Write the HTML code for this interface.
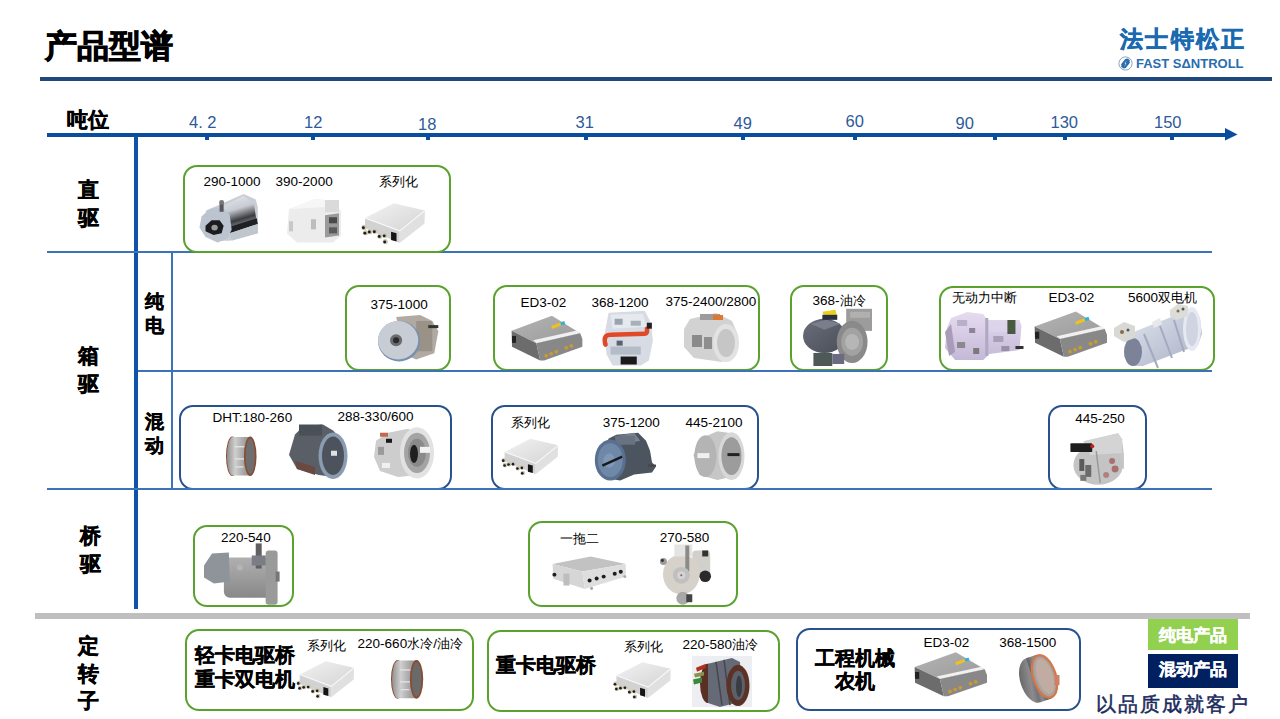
<!DOCTYPE html>
<html><head><meta charset="utf-8">
<style>
*{margin:0;padding:0;box-sizing:border-box}
html,body{width:1280px;height:719px;overflow:hidden;background:#fff}
body{position:relative;font-family:"Liberation Sans",sans-serif;color:#000}
.a{position:absolute;white-space:nowrap;line-height:1}
.ln{position:absolute}
.bx{position:absolute;border-radius:14px}
.g{border:2px solid #5aa22e}
.b{border:2px solid #28528f}
.lb{font-size:13.5px}
.hd{-webkit-text-stroke:0.5px #000;font-weight:bold;font-size:21px}
.hv{-webkit-text-stroke:0.5px #000;font-weight:bold;font-size:21px;line-height:28px;width:24px;white-space:normal}
.sv{-webkit-text-stroke:0.4px #000;font-weight:bold;font-size:18.5px;line-height:24px;width:22px;white-space:normal}
.cj{font-size:12.6px}
.bg{font-weight:bold;font-size:19.7px;-webkit-text-stroke:0.4px #000}
.tk{font-size:16.5px;color:#2d5a9a}
.tm{position:absolute;top:136px;width:4px;height:3.5px;background:#0a4d9e}
svg{position:absolute;overflow:visible}
</style></head><body>
<!-- title -->
<div class="a" style="left:45px;top:30.5px;font-size:31.5px;font-weight:bold;-webkit-text-stroke:0.9px #000">产品型谱</div>
<div class="ln" style="left:40px;top:77px;width:1232px;height:4px;background:#1f497d"></div>
<!-- logo -->
<div class="a" style="left:1120px;top:29px;font-size:22.5px;font-weight:bold;color:#1a6ab2;letter-spacing:2.3px;-webkit-text-stroke:0.6px #1a6ab2">法士特松正</div>
<svg style="left:1118px;top:56px" width="15" height="15" viewBox="0 0 15 15"><circle cx="7.5" cy="7.5" r="6.6" fill="#fff" stroke="#7a9ab8" stroke-width="0.9"/><path d="M4.2,8.6 L7.6,4.2 A2.2,2.2 0 0 1 10.6,4.6 L8.6,6.8" stroke="#2a6cb0" stroke-width="2.2" fill="none" stroke-linecap="round"/><path d="M10.8,6.4 L7.4,10.8 A2.2,2.2 0 0 1 4.4,10.4 L6.4,8.2" stroke="#2a6cb0" stroke-width="2.2" fill="none" stroke-linecap="round"/></svg>
<div class="a" style="left:1136px;top:57px;font-size:13px;font-weight:bold;color:#2a6cb0">FAST SΔNTROLL</div>

<!-- axis -->
<div class="a hd" style="left:67px;top:109px">吨位</div>
<div class="ln" style="left:47px;top:132.5px;width:1182px;height:4px;background:#0a4d9e"></div>
<svg style="left:0;top:0" width="1280" height="719"><polygon points="1225,128 1237.5,134.5 1225,140.5" fill="#0a4d9e"/></svg>
<div class="tm" style="left:205px"></div>
<div class="tm" style="left:311px"></div>
<div class="tm" style="left:426px"></div>
<div class="tm" style="left:583.5px"></div>
<div class="tm" style="left:740.7px"></div>
<div class="tm" style="left:853.3px"></div>
<div class="tm" style="left:992.7px"></div>
<div class="tm" style="left:1063px"></div>
<div class="tm" style="left:1170.3px"></div>
<div class="a tk" style="left:189px;top:114px">4. 2</div>
<div class="a tk" style="left:304px;top:114px">12</div>
<div class="a tk" style="left:418px;top:116px">18</div>
<div class="a tk" style="left:575.5px;top:114px">31</div>
<div class="a tk" style="left:733.5px;top:115px">49</div>
<div class="a tk" style="left:845.5px;top:113px">60</div>
<div class="a tk" style="left:955.5px;top:115px">90</div>
<div class="a tk" style="left:1050.5px;top:114px">130</div>
<div class="a tk" style="left:1154px;top:114px">150</div>

<!-- grid -->
<div class="ln" style="left:134px;top:136px;width:4px;height:473px;background:#0f52aa"></div>
<div class="ln" style="left:47px;top:251px;width:1165px;height:2px;background:#3b72b8"></div>
<div class="ln" style="left:138px;top:369.5px;width:1074px;height:2px;background:#3b72b8"></div>
<div class="ln" style="left:47px;top:488px;width:1165px;height:2px;background:#3b72b8"></div>
<div class="ln" style="left:171px;top:253px;width:2px;height:235px;background:#3b72b8"></div>
<div class="ln" style="left:35px;top:613.3px;width:1215px;height:5.4px;background:#bfbfbf"></div>

<!-- row headers -->
<div class="a hv" style="left:77.5px;top:176px">直<br>驱</div>
<div class="a hv" style="left:77.5px;top:342px">箱<br>驱</div>
<div class="a hv" style="left:79.5px;top:522px">桥<br>驱</div>
<div class="a hv" style="left:77.5px;top:632px;line-height:27.5px">定<br>转<br>子</div>
<div class="a sv" style="left:145px;top:290px">纯<br>电</div>
<div class="a sv" style="left:145px;top:410px">混<br>动</div>

<!-- boxes -->
<div class="bx g" style="left:183.00px;top:164.50px;width:268.00px;height:88.20px"></div>
<div class="bx g" style="left:345.00px;top:285.00px;width:106.00px;height:86.00px"></div>
<div class="bx g" style="left:492.75px;top:285.40px;width:266.75px;height:85.60px"></div>
<div class="bx g" style="left:789.60px;top:285.40px;width:98.65px;height:85.60px"></div>
<div class="bx g" style="left:938.75px;top:286.00px;width:276.65px;height:85.00px"></div>
<div class="bx g" style="left:193.40px;top:524.60px;width:100.70px;height:82.40px"></div>
<div class="bx g" style="left:527.75px;top:521.00px;width:210.15px;height:86.00px"></div>
<div class="bx g" style="left:185.25px;top:628.70px;width:288.85px;height:82.30px"></div>
<div class="bx g" style="left:486.50px;top:629.80px;width:293.00px;height:82.20px"></div>
<div class="bx b" style="left:178.75px;top:405.00px;width:272.85px;height:85.00px"></div>
<div class="bx b" style="left:490.90px;top:405.00px;width:268.60px;height:85.00px"></div>
<div class="bx b" style="left:1048.40px;top:405.00px;width:98.60px;height:85.00px"></div>
<div class="bx b" style="left:795.50px;top:628.00px;width:285.50px;height:83.00px"></div>
<div class="ln" style="left:138px;top:369.5px;width:1074px;height:2px;background:#3b72b8"></div>
<div class="ln" style="left:47px;top:488px;width:1165px;height:2px;background:#3b72b8"></div>
<div class="a lb" style="left:203.5px;top:174.7px">290-1000</div>
<div class="a lb" style="left:275.6px;top:174.7px">390-2000</div>
<div class="a lb" style="left:379.4px;top:175.1px"><span class="cj">系列化</span></div>
<div class="a lb" style="left:370.6px;top:298.1px">375-1000</div>
<div class="a lb" style="left:520.4px;top:295.8px">ED3-02</div>
<div class="a lb" style="left:591.5px;top:295.8px">368-1200</div>
<div class="a lb" style="left:665.5px;top:295.4px">375-2400/2800</div>
<div class="a lb" style="left:812.6px;top:294.1px">368-<span class="cj">油冷</span></div>
<div class="a lb" style="left:951.6px;top:291.1px"><span class="cj">无动力中断</span></div>
<div class="a lb" style="left:1048.4px;top:291.3px">ED3-02</div>
<div class="a lb" style="left:1128.0px;top:291.1px">5600<span class="cj">双电机</span></div>
<div class="a lb" style="left:212.6px;top:411.2px">DHT:180-260</div>
<div class="a lb" style="left:337.6px;top:410.1px">288-330/600</div>
<div class="a lb" style="left:511.0px;top:415.6px"><span class="cj">系列化</span></div>
<div class="a lb" style="left:602.8px;top:415.8px">375-1200</div>
<div class="a lb" style="left:685.5px;top:415.8px">445-2100</div>
<div class="a lb" style="left:1075.3px;top:412.4px">445-250</div>
<div class="a lb" style="left:221.1px;top:531.1px">220-540</div>
<div class="a lb" style="left:559.9px;top:532.0px"><span class="cj">一拖二</span></div>
<div class="a lb" style="left:659.8px;top:530.6px">270-580</div>
<div class="a lb" style="left:306.6px;top:638.6px"><span class="cj">系列化</span></div>
<div class="a lb" style="left:357.6px;top:637.3px">220-660<span class="cj">水冷</span>/<span class="cj">油冷</span></div>
<div class="a lb" style="left:623.8px;top:639.9px"><span class="cj">系列化</span></div>
<div class="a lb" style="left:682.5px;top:638.1px">220-580<span class="cj">油冷</span></div>
<div class="a lb" style="left:923.6px;top:636.4px">ED3-02</div>
<div class="a lb" style="left:999.3px;top:636.4px">368-1500</div>
<div class="a bg" style="left:195.2px;top:645.7px">轻卡电驱桥</div>
<div class="a bg" style="left:195.2px;top:670.0px">重卡双电机</div>
<div class="a bg" style="left:496.2px;top:655.5px">重卡电驱桥</div>
<div class="a bg" style="left:814.6px;top:648.5px">工程机械</div>
<div class="a bg" style="left:834.5px;top:671.9px">农机</div>
<svg style="left:0;top:0" width="1280" height="719"><defs>
<linearGradient id="gSilTop" x1="0" y1="0" x2="1" y2="1"><stop offset="0" stop-color="#f2f2f2"/><stop offset="1" stop-color="#d4d4d4"/></linearGradient>
<linearGradient id="gGrayTop" x1="0" y1="0" x2="1" y2="1"><stop offset="0" stop-color="#b4b4b4"/><stop offset="1" stop-color="#9a9a9a"/></linearGradient>
<linearGradient id="gM1" x1="0" y1="0" x2="0.3" y2="1"><stop offset="0" stop-color="#e8ebf0"/><stop offset="0.45" stop-color="#c8ccd2"/><stop offset="0.75" stop-color="#3a3c40"/><stop offset="1" stop-color="#9aa0a8"/></linearGradient>
<linearGradient id="gCyl" x1="0" y1="0" x2="0" y2="1"><stop offset="0" stop-color="#e0e0e0"/><stop offset="0.5" stop-color="#c4c4c4"/><stop offset="1" stop-color="#9a9a9a"/></linearGradient>
<linearGradient id="gStat" x1="0" y1="0" x2="1" y2="0"><stop offset="0" stop-color="#909090"/><stop offset="0.35" stop-color="#cfcfcf"/><stop offset="0.7" stop-color="#a8a8a8"/><stop offset="1" stop-color="#8a8a8a"/></linearGradient>
<linearGradient id="gDark" x1="0" y1="0" x2="1" y2="1"><stop offset="0" stop-color="#6a6e7a"/><stop offset="1" stop-color="#4a4e58"/></linearGradient>
<linearGradient id="gLav" x1="0" y1="0" x2="0" y2="1"><stop offset="0" stop-color="#e6dcf0"/><stop offset="1" stop-color="#c4b8d8"/></linearGradient>
<linearGradient id="gBlu" x1="0" y1="0" x2="1" y2="1"><stop offset="0" stop-color="#e4e8f2"/><stop offset="1" stop-color="#a8b0c4"/></linearGradient>
<linearGradient id="gCast" x1="0" y1="0" x2="0" y2="1"><stop offset="0" stop-color="#b0b0b0"/><stop offset="1" stop-color="#888888"/></linearGradient>
</defs><g transform="translate(199.50 194.00) scale(1.0052 0.9340)"><polygon points="6.0,18.0 40.0,2.0 44.0,0.0 56.0,6.0 58.0,14.0 58.0,42.0 30.0,50.0 14.0,50.0" fill="#c9ced6" /><polygon points="22.0,14.0 44.0,2.0 54.0,10.0 57.0,30.0 32.0,40.0" fill="url(#gM1)" /><polygon points="28.0,36.0 57.0,26.0 58.0,32.0 30.0,42.0" fill="#1e2024" /><polygon points="30.0,42.0 58.0,32.0 58.0,42.0 32.0,50.0" fill="#c0c6ce" /><polygon points="2.0,24.0 10.0,16.0 22.0,14.0 30.0,22.0 32.0,38.0 28.0,48.0 18.0,52.0 6.0,46.0 0.0,36.0" fill="#bcc4d0" /><polygon points="6.0,34.0 12.0,28.0 20.0,28.0 24.0,34.0 22.0,42.0 14.0,44.0 6.0,40.0" fill="#1c1c20" /><circle cx="15.0" cy="36.0" r="3.2" fill="#9a9a9a" /><rect x="20.0" y="10.0" width="4.0" height="9.0" fill="#55565c" /><circle cx="22.0" cy="9.0" r="2.5" fill="#777" /></g><g transform="translate(285.00 197.00) scale(1.0000 1.0111)"><polygon points="4.0,12.0 30.0,2.0 48.0,4.0 56.0,14.0 56.0,38.0 48.0,45.0 12.0,45.0 2.0,36.0" fill="#ececec" /><polygon points="4.0,12.0 30.0,2.0 48.0,4.0 40.0,10.0" fill="#f6f6f6" /><rect x="40.0" y="3.0" width="14.0" height="12.0" fill="#dadada" /><polygon points="40.0,18.0 54.0,16.0 54.0,38.0 40.0,40.0" fill="#9a9a9a" /><rect x="44.0" y="20.0" width="8.0" height="6.0" fill="#4a4a4a" /><rect x="44.0" y="30.0" width="8.0" height="6.0" fill="#5a5a5a" /><rect x="26.0" y="22.0" width="5.0" height="10.0" fill="#bdbdbd" /><rect x="4.0" y="24.0" width="4.0" height="10.0" fill="#c8c8c8" /></g><g transform="translate(362.00 202.00) scale(0.9922 0.9762)"><polygon points="3.0,16.4 32.0,1.3 63.4,8.8 38.0,29.6" fill="url(#gSilTop)" /><polygon points="3.0,16.4 38.0,29.6 38.0,42.0 3.0,27.0" fill="#d2d2d2" /><polygon points="38.0,29.6 63.4,8.8 63.0,22.0 38.0,42.0" fill="#e0e0e0" /><path d="M3,16.4 L38,29.6 L63.4,8.8" stroke="#f8f8f8" stroke-width="1.2" fill="none"/><circle cx="2.0" cy="26.0" r="2.6" fill="#cfc8b4" /><circle cx="1.4" cy="26.4" r="1.5" fill="#1e1e1e" /><circle cx="3.5" cy="31.5" r="2.6" fill="#cfc8b4" /><circle cx="2.9" cy="31.9" r="1.5" fill="#1e1e1e" /><circle cx="8.0" cy="30.4" r="2.6" fill="#cfc8b4" /><circle cx="7.4" cy="30.8" r="1.5" fill="#1e1e1e" /><circle cx="13.0" cy="30.0" r="2.6" fill="#cfc8b4" /><circle cx="12.4" cy="30.4" r="1.5" fill="#1e1e1e" /><circle cx="18.0" cy="35.0" r="2.6" fill="#cfc8b4" /><circle cx="17.4" cy="35.4" r="1.5" fill="#1e1e1e" /><circle cx="23.0" cy="34.3" r="2.6" fill="#cfc8b4" /><circle cx="22.4" cy="34.7" r="1.5" fill="#1e1e1e" /><circle cx="23.5" cy="40.5" r="2.6" fill="#cfc8b4" /><circle cx="22.9" cy="40.9" r="1.5" fill="#1e1e1e" /><polygon points="29.3,30.4 34.8,32.0 34.8,40.5 29.3,39.0" fill="#151515" /></g><g transform="translate(376.00 313.00) scale(1.0048 1.0083)"><polygon points="20.0,4.0 44.0,2.0 56.0,8.0 62.0,18.0 58.0,40.0 40.0,46.0 30.0,42.0" fill="#b0aaa2" /><rect x="40.0" y="8.0" width="16.0" height="30.0" fill="#9a9286" /><ellipse cx="23.0" cy="28.0" rx="21.0" ry="20.0" fill="#7890b0" /><ellipse cx="22.0" cy="27.0" rx="20.0" ry="19.0" fill="#c8ccd4" /><circle cx="20.0" cy="27.0" r="6.0" fill="#6a6a70" /><circle cx="20.0" cy="27.0" r="3.0" fill="#2a2a2a" /><rect x="52.0" y="12.0" width="10.0" height="3.0" fill="#333" /></g><g transform="translate(510.00 315.20) scale(1.0056 0.9872)"><polygon points="1.6,15.8 41.7,0.6 69.8,18.2 26.2,28.3" fill="url(#gGrayTop)" /><polygon points="23.0,25.5 66.5,15.6 69.8,18.2 26.2,28.3" fill="#f0f0f0" /><polygon points="1.6,15.8 26.2,28.3 30.0,46.0 2.0,32.0" fill="#6c6c6c" /><polygon points="26.2,28.3 69.8,18.2 72.0,24.0 72.0,32.0 34.0,46.0 30.0,46.0" fill="#888888" /><polygon points="41.0,11.0 51.0,7.0 52.0,10.0 42.0,14.0" fill="#f0c020" /><polygon points="50.0,7.5 54.0,6.0 55.0,9.0 51.0,10.5" fill="#30b0e0" /><circle cx="36.0" cy="41.0" r="1.9" fill="#c89a30" /><circle cx="41.0" cy="39.0" r="1.9" fill="#c89a30" /><circle cx="46.0" cy="37.0" r="1.9" fill="#c89a30" /><circle cx="56.0" cy="33.0" r="1.9" fill="#c89a30" /><circle cx="61.0" cy="31.0" r="1.9" fill="#c89a30" /><rect x="2.0" y="21.0" width="4.0" height="7.0" fill="#222" /></g><g transform="translate(600.50 310.80) scale(1.0075 0.9945)"><polygon points="8.0,2.0 44.0,0.0 50.0,12.0 52.0,30.0 48.0,50.0 40.0,55.0 12.0,55.0 6.0,44.0 4.0,24.0" fill="#d6dbe4" /><polygon points="10.0,4.0 42.0,3.0 46.0,16.0 12.0,18.0" fill="#e6e9ee" /><rect x="14.0" y="8.0" width="8.0" height="6.0" fill="#9aa4b0" /><rect x="30.0" y="10.0" width="10.0" height="5.0" fill="#a8b0bc" /><rect x="10.0" y="36.0" width="30.0" height="8.0" fill="#b4bcc8" /><rect x="16.0" y="30.0" width="6.0" height="5.0" fill="#5a6470" /><rect x="20.0" y="46.0" width="16.0" height="8.0" fill="#1a1a1a" /><path d="M5,34 Q2,24 10,24 L44,23 Q47,23 46,18" stroke="#e04828" stroke-width="4.5" fill="none" stroke-linecap="round"/><rect x="46.0" y="12.0" width="5.0" height="6.0" fill="#222" /></g><g transform="translate(682.00 313.00) scale(1.0000 1.0000)"><polygon points="8.0,6.0 34.0,0.0 50.0,8.0 56.0,22.0 54.0,40.0 40.0,49.0 12.0,45.0 2.0,34.0 2.0,16.0" fill="#d2d2d2" /><rect x="18.0" y="1.0" width="20.0" height="6.0" fill="#9c9c9c" /><rect x="31.0" y="2.0" width="10.0" height="5.0" fill="#e07830" /><rect x="10.0" y="22.0" width="10.0" height="12.0" fill="#8a8a8a" /><rect x="22.0" y="24.0" width="8.0" height="12.0" fill="#8e8e8e" /><ellipse cx="44.0" cy="30.0" rx="13.0" ry="19.0" fill="#e2e2e2" /><ellipse cx="44.0" cy="30.0" rx="9.0" ry="14.0" fill="#c6c6c6" /></g><g transform="translate(802.50 307.80) scale(0.9929 1.0034)"><ellipse cx="22.0" cy="28.0" rx="21.5" ry="17.0" fill="url(#gDark)" /><polygon points="8.0,16.0 24.0,12.0 38.0,16.0 22.0,22.0" fill="#7a7e8c" /><polygon points="20.0,4.0 33.0,2.0 35.0,8.0 22.0,10.0" fill="#e8d020" /><rect x="20.0" y="7.0" width="15.0" height="5.0" fill="#2a3040" /><rect x="44.0" y="1.0" width="26.0" height="22.0" fill="#9c9c9c" /><rect x="48.0" y="4.0" width="20.0" height="6.0" fill="#b0b0b0" /><ellipse cx="50.0" cy="34.0" rx="15.5" ry="21.0" fill="#8a8a8a" /><ellipse cx="50.0" cy="34.0" rx="11.0" ry="14.0" fill="#a2a2a2" /><ellipse cx="50.0" cy="34.0" rx="7.0" ry="8.0" fill="#b6b6b6" /><rect x="11.0" y="45.0" width="19.0" height="13.0" fill="#4e5856" /><rect x="30.0" y="46.0" width="12.0" height="10.0" fill="#6a6a80" /></g><g transform="translate(945.00 312.00) scale(1.0064 1.0000)"><polygon points="6.0,6.0 22.0,0.0 38.0,2.0 42.0,8.0 74.0,8.0 76.0,14.0 74.0,38.0 44.0,42.0 38.0,48.0 10.0,48.0 0.0,36.0 2.0,16.0" fill="url(#gLav)" /><polygon points="0.0,20.0 6.0,12.0 10.0,40.0 4.0,44.0" fill="#a89cb8" /><rect x="44.0" y="10.0" width="20.0" height="10.0" fill="#dcd4ea" /><rect x="62.0" y="8.0" width="8.0" height="14.0" fill="#4a5a40" /><rect x="12.0" y="8.0" width="10.0" height="6.0" fill="#b8b0c8" /><rect x="24.0" y="16.0" width="6.0" height="5.0" fill="#8c8498" /><rect x="12.0" y="30.0" width="8.0" height="6.0" fill="#8a8a8a" /><rect x="28.0" y="36.0" width="6.0" height="6.0" fill="#7a7a7a" /><rect x="48.0" y="24.0" width="10.0" height="6.0" fill="#a8a0b8" /><rect x="56.0" y="34.0" width="8.0" height="5.0" fill="#9890a8" /><rect x="40.0" y="6.0" width="3.0" height="38.0" fill="#b0a8c0" /><rect x="70.0" y="34.0" width="8.0" height="3.0" fill="#333" /></g><g transform="translate(1033.00 310.80) scale(1.0278 0.9979)"><polygon points="1.6,15.8 41.7,0.6 69.8,18.2 26.2,28.3" fill="url(#gGrayTop)" /><polygon points="23.0,25.5 66.5,15.6 69.8,18.2 26.2,28.3" fill="#f0f0f0" /><polygon points="1.6,15.8 26.2,28.3 30.0,46.0 2.0,32.0" fill="#6c6c6c" /><polygon points="26.2,28.3 69.8,18.2 72.0,24.0 72.0,32.0 34.0,46.0 30.0,46.0" fill="#888888" /><polygon points="41.0,11.0 51.0,7.0 52.0,10.0 42.0,14.0" fill="#f0c020" /><polygon points="50.0,7.5 54.0,6.0 55.0,9.0 51.0,10.5" fill="#30b0e0" /><circle cx="36.0" cy="41.0" r="1.9" fill="#c89a30" /><circle cx="41.0" cy="39.0" r="1.9" fill="#c89a30" /><circle cx="46.0" cy="37.0" r="1.9" fill="#c89a30" /><circle cx="56.0" cy="33.0" r="1.9" fill="#c89a30" /><circle cx="61.0" cy="31.0" r="1.9" fill="#c89a30" /><rect x="2.0" y="21.0" width="4.0" height="7.0" fill="#222" /></g><g transform="translate(1114.00 304.00) scale(1.0000 1.0000)"><polygon points="22.0,27.0 70.0,8.0 78.0,3.0 86.0,14.0 88.0,30.0 84.0,41.0 29.0,62.0 18.0,62.0 10.0,52.0 12.0,36.0" fill="url(#gBlu)" /><ellipse cx="78.0" cy="25.0" rx="9.0" ry="22.0" fill="#e6e8f2" /><ellipse cx="78.0" cy="25.0" rx="6.0" ry="17.0" fill="#d0d4e2" /><ellipse cx="19.0" cy="48.0" rx="9.0" ry="14.0" fill="#7c8298" /><path d="M30,30 L44,64 M46,22 L58,54 M60,16 L70,48" stroke="#a4aac0" stroke-width="2" fill="none"/><polygon points="0.0,24.0 10.0,18.0 21.0,22.0 21.0,34.0 10.0,38.0 0.0,32.0" fill="#d8d8d4" /><circle cx="8.0" cy="28.0" r="2.0" fill="#8a6a40" /><circle cx="14.0" cy="26.0" r="1.5" fill="#555" /><polygon points="56.0,6.0 64.0,0.0 74.0,2.0 74.0,12.0 62.0,16.0 56.0,12.0" fill="#dcdcd8" /><circle cx="64.0" cy="7.0" r="1.5" fill="#8a6a40" /><circle cx="69.0" cy="5.0" r="1.5" fill="#555" /><polygon points="38.0,18.0 46.0,14.0 48.0,20.0 40.0,24.0" fill="#e8e8ea" /></g><g transform="translate(226.00 436.00) scale(0.9688 1.0150)"><ellipse cx="6.5" cy="20.0" rx="6.5" ry="19.5" fill="#8a4a30" /><path d="M7,1 L25,1 L25,39 L7,39 A6,19 0 0 1 7,1 Z" fill="url(#gStat)"/><rect x="9.0" y="10.0" width="10.0" height="1.2" fill="#e8e8e8" /><rect x="9.0" y="22.0" width="10.0" height="1.2" fill="#e8e8e8" /><rect x="10.0" y="30.0" width="8.0" height="1.0" fill="#eee" /><ellipse cx="25.0" cy="20.0" rx="6.5" ry="19.5" fill="#8a4a30" /><ellipse cx="25.0" cy="20.0" rx="4.8" ry="17.5" fill="#6e6e6e" /></g><g transform="translate(289.00 424.50) scale(1.0000 1.0091)"><polygon points="6.0,10.0 14.0,2.0 34.0,0.0 44.0,6.0 50.0,12.0 44.0,52.0 30.0,50.0 8.0,44.0 0.0,30.0" fill="#5a5e66" /><rect x="10.0" y="0.0" width="23.0" height="11.0" fill="#4a5058" /><polygon points="6.0,36.0 26.0,42.0 26.0,50.0 8.0,44.0" fill="#6a4a40" /><ellipse cx="44.0" cy="31.0" rx="14.5" ry="23.0" fill="#8a9cb0" /><ellipse cx="44.0" cy="31.0" rx="11.0" ry="19.0" fill="#4c535c" /><rect x="42.0" y="26.0" width="6.0" height="5.0" fill="#e0e0e0" /></g><g transform="translate(374.00 426.70) scale(1.0000 1.0057)"><polygon points="2.0,14.0 14.0,6.0 34.0,2.0 42.0,6.0 44.0,48.0 24.0,50.0 6.0,44.0 0.0,30.0" fill="#cdcdcd" /><ellipse cx="43.0" cy="26.0" rx="17.0" ry="25.5" fill="#e2e2e2" /><ellipse cx="43.0" cy="26.0" rx="13.0" ry="20.0" fill="#a4a4a4" /><ellipse cx="43.0" cy="26.0" rx="9.0" ry="14.0" fill="#8a8a8a" /><ellipse cx="40.0" cy="27.0" rx="4.0" ry="9.0" fill="#1e1e1e" /><rect x="46.0" y="20.0" width="10.0" height="6.0" fill="#f2f2f2" /><rect x="6.0" y="6.0" width="8.0" height="4.0" fill="#c06a50" /><rect x="12.0" y="12.0" width="6.0" height="4.0" fill="#1a1a1a" /><rect x="8.0" y="36.0" width="8.0" height="5.0" fill="#f0f0f0" /><rect x="4.0" y="20.0" width="6.0" height="8.0" fill="#9a9a9a" /></g><g transform="translate(502.00 437.60) scale(0.8844 0.8738)"><polygon points="3.0,16.4 32.0,1.3 63.4,8.8 38.0,29.6" fill="url(#gSilTop)" /><polygon points="3.0,16.4 38.0,29.6 38.0,42.0 3.0,27.0" fill="#d2d2d2" /><polygon points="38.0,29.6 63.4,8.8 63.0,22.0 38.0,42.0" fill="#e0e0e0" /><path d="M3,16.4 L38,29.6 L63.4,8.8" stroke="#f8f8f8" stroke-width="1.2" fill="none"/><circle cx="2.0" cy="26.0" r="2.6" fill="#cfc8b4" /><circle cx="1.4" cy="26.4" r="1.5" fill="#1e1e1e" /><circle cx="3.5" cy="31.5" r="2.6" fill="#cfc8b4" /><circle cx="2.9" cy="31.9" r="1.5" fill="#1e1e1e" /><circle cx="8.0" cy="30.4" r="2.6" fill="#cfc8b4" /><circle cx="7.4" cy="30.8" r="1.5" fill="#1e1e1e" /><circle cx="13.0" cy="30.0" r="2.6" fill="#cfc8b4" /><circle cx="12.4" cy="30.4" r="1.5" fill="#1e1e1e" /><circle cx="18.0" cy="35.0" r="2.6" fill="#cfc8b4" /><circle cx="17.4" cy="35.4" r="1.5" fill="#1e1e1e" /><circle cx="23.0" cy="34.3" r="2.6" fill="#cfc8b4" /><circle cx="22.4" cy="34.7" r="1.5" fill="#1e1e1e" /><circle cx="23.5" cy="40.5" r="2.6" fill="#cfc8b4" /><circle cx="22.9" cy="40.9" r="1.5" fill="#1e1e1e" /><polygon points="29.3,30.4 34.8,32.0 34.8,40.5 29.3,39.0" fill="#151515" /></g><g transform="translate(594.40 432.70) scale(0.9935 0.9959)"><polygon points="14.0,6.0 22.0,2.0 44.0,0.0 52.0,8.0 56.0,18.0 58.0,30.0 62.0,34.0 58.0,40.0 40.0,42.0 26.0,48.0 14.0,46.0" fill="#4c5460" /><polygon points="20.0,4.0 40.0,0.0 46.0,8.0 28.0,12.0" fill="#7a828c" /><rect x="21.0" y="3.0" width="20.0" height="9.0" fill="#687280" /><ellipse cx="16.0" cy="27.5" rx="15.6" ry="20.6" fill="#5a7090" /><ellipse cx="16.0" cy="27.5" rx="12.5" ry="17.0" fill="#7088a8" /><ellipse cx="15.0" cy="28.0" rx="6.0" ry="7.0" fill="#8098b8" /><path d="M8,33 L28,24" stroke="#1a1a1a" stroke-width="2.5"/><rect x="54.0" y="32.0" width="8.0" height="2.0" fill="#444" /></g><g transform="translate(693.40 431.20) scale(1.0019 0.9959)"><polygon points="10.0,6.0 24.0,0.0 38.0,2.0 44.0,8.0 46.0,44.0 24.0,49.0 6.0,44.0 0.0,24.0" fill="#c6c6c6" /><ellipse cx="12.0" cy="25.0" rx="11.0" ry="21.0" fill="#b4b4b4" /><ellipse cx="38.0" cy="25.0" rx="13.0" ry="24.0" fill="#d8d8d8" /><ellipse cx="38.0" cy="25.0" rx="10.0" ry="19.0" fill="#9c9c9c" /><rect x="34.0" y="22.0" width="12.0" height="3.0" fill="#222" /><rect x="4.0" y="22.0" width="12.0" height="5.0" fill="#f0f0f0" /></g><g transform="translate(1070.40 433.30) scale(0.9926 0.9904)"><polygon points="14.0,8.0 48.0,0.0 52.0,6.0 54.0,22.0 54.0,36.0" fill="#c8c8c8" /><ellipse cx="28.0" cy="32.0" rx="25.0" ry="20.0" fill="#c4c4c4" /><polygon points="13.0,8.0 48.0,0.0 52.0,6.0 52.0,20.0 20.0,22.0" fill="#d4d4d4" /><rect x="0.0" y="10.0" width="22.0" height="9.0" fill="#1e1e1e" rx="1"/><circle cx="22.0" cy="13.0" r="2.0" fill="#c02020" /><rect x="9.0" y="26.0" width="5.0" height="12.0" fill="#5a5a5a" /><rect x="15.0" y="32.0" width="6.0" height="12.0" fill="#6a6a6a" /><rect x="10.0" y="42.0" width="6.0" height="6.0" fill="#777" /><circle cx="42.0" cy="28.0" r="3.0" fill="#a87070" /><circle cx="45.0" cy="36.0" r="3.5" fill="#a87070" /><circle cx="36.0" cy="42.0" r="3.0" fill="#b08080" /><path d="M26,18 L30,50" stroke="#9a9a9a" stroke-width="1.5"/></g><g transform="translate(204.00 543.40) scale(0.9947 1.0049)"><rect x="20.0" y="14.0" width="50.0" height="40.0" fill="url(#gCast)" rx="6"/><polygon points="0.0,22.0 8.0,10.0 25.0,9.0 26.0,38.0 10.0,40.0 0.0,34.0" fill="#8e949a" /><rect x="62.0" y="7.0" width="12.0" height="54.0" fill="#9a9a9a" rx="3"/><rect x="52.0" y="0.0" width="6.0" height="25.0" fill="#606060" /><rect x="48.0" y="12.0" width="14.0" height="10.0" fill="#7a7e84" /><rect x="72.0" y="28.0" width="4.0" height="10.0" fill="#777" /><circle cx="36.0" cy="24.0" r="3.0" fill="#b4b4b4" /></g><g transform="translate(551.40 555.80) scale(1.0053 0.9914)"><polygon points="1.2,8.3 39.2,0.8 74.0,8.3 30.7,15.9" fill="#c2c2c2" /><polygon points="1.2,8.3 30.7,15.9 33.3,33.6 1.8,23.1" fill="#d6d6d6" /><polygon points="30.7,15.9 74.0,8.3 74.0,21.0 33.3,33.6" fill="#dedede" /><rect x="12.0" y="18.0" width="6.0" height="12.0" fill="#bdbdbd" /><circle cx="38.0" cy="25.0" r="2.0" fill="#1e1e1e" /><circle cx="45.0" cy="23.0" r="2.0" fill="#1e1e1e" /><circle cx="52.0" cy="21.0" r="2.0" fill="#1e1e1e" /><circle cx="63.0" cy="18.0" r="2.0" fill="#1e1e1e" /><circle cx="69.0" cy="16.0" r="2.0" fill="#1e1e1e" /><circle cx="3.0" cy="19.0" r="2.0" fill="#1e1e1e" /><circle cx="40.0" cy="33.0" r="1.5" fill="#9ab" /><circle cx="73.0" cy="21.0" r="1.5" fill="#9ab" /></g><g transform="translate(658.40 544.50) scale(0.9964 0.9951)"><rect x="34.0" y="6.0" width="18.0" height="26.0" fill="#d2d0ca" rx="4"/><rect x="44.0" y="6.0" width="6.0" height="6.0" fill="#333" /><ellipse cx="23.0" cy="30.0" rx="18.4" ry="20.0" fill="#d6d2ca" /><rect x="16.0" y="0.0" width="18.0" height="12.0" fill="#e4e4e2" /><rect x="27.0" y="1.0" width="4.0" height="26.0" fill="#8a8a88" /><circle cx="23.0" cy="31.0" r="8.5" fill="#c0c0c0" /><circle cx="23.0" cy="31.0" r="4.0" fill="#d4d4d4" /><circle cx="23.0" cy="31.0" r="1.0" fill="#a05050" /><circle cx="47.0" cy="32.0" r="5.8" fill="#2a2a2a" /><circle cx="24.5" cy="54.0" r="6.5" fill="#a8a8a8" /><rect x="28.0" y="50.0" width="6.0" height="8.0" fill="#444" /><circle cx="5.0" cy="17.0" r="3.5" fill="#9a9a9a" /><circle cx="4.0" cy="16.0" r="1.5" fill="#333" /></g><g transform="translate(297.00 660.00) scale(0.9000 0.8881)"><polygon points="3.0,16.4 32.0,1.3 63.4,8.8 38.0,29.6" fill="url(#gSilTop)" /><polygon points="3.0,16.4 38.0,29.6 38.0,42.0 3.0,27.0" fill="#d2d2d2" /><polygon points="38.0,29.6 63.4,8.8 63.0,22.0 38.0,42.0" fill="#e0e0e0" /><path d="M3,16.4 L38,29.6 L63.4,8.8" stroke="#f8f8f8" stroke-width="1.2" fill="none"/><circle cx="2.0" cy="26.0" r="2.6" fill="#cfc8b4" /><circle cx="1.4" cy="26.4" r="1.5" fill="#1e1e1e" /><circle cx="3.5" cy="31.5" r="2.6" fill="#cfc8b4" /><circle cx="2.9" cy="31.9" r="1.5" fill="#1e1e1e" /><circle cx="8.0" cy="30.4" r="2.6" fill="#cfc8b4" /><circle cx="7.4" cy="30.8" r="1.5" fill="#1e1e1e" /><circle cx="13.0" cy="30.0" r="2.6" fill="#cfc8b4" /><circle cx="12.4" cy="30.4" r="1.5" fill="#1e1e1e" /><circle cx="18.0" cy="35.0" r="2.6" fill="#cfc8b4" /><circle cx="17.4" cy="35.4" r="1.5" fill="#1e1e1e" /><circle cx="23.0" cy="34.3" r="2.6" fill="#cfc8b4" /><circle cx="22.4" cy="34.7" r="1.5" fill="#1e1e1e" /><circle cx="23.5" cy="40.5" r="2.6" fill="#cfc8b4" /><circle cx="22.9" cy="40.9" r="1.5" fill="#1e1e1e" /><polygon points="29.3,30.4 34.8,32.0 34.8,40.5 29.3,39.0" fill="#151515" /></g><g transform="translate(391.00 659.40) scale(1.0219 0.9950)"><ellipse cx="6.5" cy="20.0" rx="6.5" ry="19.5" fill="#8a4a30" /><path d="M7,1 L25,1 L25,39 L7,39 A6,19 0 0 1 7,1 Z" fill="url(#gStat)"/><rect x="9.0" y="10.0" width="10.0" height="1.2" fill="#e8e8e8" /><rect x="9.0" y="22.0" width="10.0" height="1.2" fill="#e8e8e8" /><rect x="10.0" y="30.0" width="8.0" height="1.0" fill="#eee" /><ellipse cx="25.0" cy="20.0" rx="6.5" ry="19.5" fill="#8a4a30" /><ellipse cx="25.0" cy="20.0" rx="4.8" ry="17.5" fill="#6a6a6a" /></g><g transform="translate(613.75 661.00) scale(0.8984 0.8810)"><polygon points="3.0,16.4 32.0,1.3 63.4,8.8 38.0,29.6" fill="url(#gSilTop)" /><polygon points="3.0,16.4 38.0,29.6 38.0,42.0 3.0,27.0" fill="#d2d2d2" /><polygon points="38.0,29.6 63.4,8.8 63.0,22.0 38.0,42.0" fill="#e0e0e0" /><path d="M3,16.4 L38,29.6 L63.4,8.8" stroke="#f8f8f8" stroke-width="1.2" fill="none"/><circle cx="2.0" cy="26.0" r="2.6" fill="#cfc8b4" /><circle cx="1.4" cy="26.4" r="1.5" fill="#1e1e1e" /><circle cx="3.5" cy="31.5" r="2.6" fill="#cfc8b4" /><circle cx="2.9" cy="31.9" r="1.5" fill="#1e1e1e" /><circle cx="8.0" cy="30.4" r="2.6" fill="#cfc8b4" /><circle cx="7.4" cy="30.8" r="1.5" fill="#1e1e1e" /><circle cx="13.0" cy="30.0" r="2.6" fill="#cfc8b4" /><circle cx="12.4" cy="30.4" r="1.5" fill="#1e1e1e" /><circle cx="18.0" cy="35.0" r="2.6" fill="#cfc8b4" /><circle cx="17.4" cy="35.4" r="1.5" fill="#1e1e1e" /><circle cx="23.0" cy="34.3" r="2.6" fill="#cfc8b4" /><circle cx="22.4" cy="34.7" r="1.5" fill="#1e1e1e" /><circle cx="23.5" cy="40.5" r="2.6" fill="#cfc8b4" /><circle cx="22.9" cy="40.9" r="1.5" fill="#1e1e1e" /><polygon points="29.3,30.4 34.8,32.0 34.8,40.5 29.3,39.0" fill="#151515" /></g><g transform="translate(692.00 656.00) scale(1.0000 0.9811)"><rect x="0.0" y="0.0" width="60.0" height="52.0" fill="#eceef2" /><ellipse cx="16.0" cy="28.0" rx="8.0" ry="20.0" fill="#5a3024" /><polygon points="16.0,8.0 40.0,2.0 48.0,6.0 50.0,46.0 28.0,52.0 16.0,48.0" fill="#666a76" /><path d="M24,6 L30,50 M32,4 L38,50" stroke="#44474e" stroke-width="1.5"/><ellipse cx="46.0" cy="30.0" rx="11.5" ry="21.0" fill="#5c3226" /><ellipse cx="46.0" cy="30.0" rx="7.0" ry="15.0" fill="#5c606a" /><ellipse cx="47.0" cy="31.0" rx="3.0" ry="11.0" fill="#3a3c44" /><polygon points="4.0,12.0 14.0,8.0 14.0,12.0 5.0,16.0" fill="#b03020" /><polygon points="2.0,18.0 12.0,16.0 12.0,20.0 3.0,22.0" fill="#8a9050" /><polygon points="1.0,24.0 10.0,22.0 10.0,27.0 2.0,29.0" fill="#3a8a3a" /></g><g transform="translate(913.00 651.60) scale(1.0278 0.9723)"><polygon points="1.6,15.8 41.7,0.6 69.8,18.2 26.2,28.3" fill="url(#gGrayTop)" /><polygon points="23.0,25.5 66.5,15.6 69.8,18.2 26.2,28.3" fill="#f0f0f0" /><polygon points="1.6,15.8 26.2,28.3 30.0,46.0 2.0,32.0" fill="#6c6c6c" /><polygon points="26.2,28.3 69.8,18.2 72.0,24.0 72.0,32.0 34.0,46.0 30.0,46.0" fill="#888888" /><polygon points="41.0,11.0 51.0,7.0 52.0,10.0 42.0,14.0" fill="#f0c020" /><polygon points="50.0,7.5 54.0,6.0 55.0,9.0 51.0,10.5" fill="#30b0e0" /><circle cx="36.0" cy="41.0" r="1.9" fill="#c89a30" /><circle cx="41.0" cy="39.0" r="1.9" fill="#c89a30" /><circle cx="46.0" cy="37.0" r="1.9" fill="#c89a30" /><circle cx="56.0" cy="33.0" r="1.9" fill="#c89a30" /><circle cx="61.0" cy="31.0" r="1.9" fill="#c89a30" /><rect x="2.0" y="21.0" width="4.0" height="7.0" fill="#222" /></g><g transform="translate(1013.80 652.80) scale(0.9935 1.0080)"><linearGradient id="gSt27" x1="0" y1="0" x2="1" y2="0.3"><stop offset="0" stop-color="#5e5e60"/><stop offset="0.5" stop-color="#8c8c8e"/><stop offset="1" stop-color="#505052"/></linearGradient><g transform="rotate(-18 23 25)"><ellipse cx="19.0" cy="26.0" rx="13.0" ry="23.0" fill="url(#gSt27)" /><rect x="19.0" y="3.0" width="12.0" height="46.0" fill="url(#gSt27)" /><ellipse cx="31.0" cy="26.0" rx="12.5" ry="23.0" fill="#d4784a" /><ellipse cx="31.0" cy="26.0" rx="10.0" ry="20.5" fill="#a8a4a2" /><ellipse cx="31.5" cy="26.0" rx="8.0" ry="18.0" fill="#c0aca2" /></g><rect x="41.0" y="22.0" width="5.0" height="10.0" fill="#d08060" /></g></svg>
<!-- legend -->
<div class="ln" style="left:1148px;top:619.4px;width:90px;height:30.4px;background:#92d050"></div>
<div class="ln" style="left:1148px;top:654px;width:90px;height:33.7px;background:#002060"></div>
<div class="a" style="left:1159px;top:628px;font-size:16.8px;font-weight:bold;color:#fff;-webkit-text-stroke:0.4px #fff">纯电产品</div>
<div class="a" style="left:1159px;top:662px;font-size:16.8px;font-weight:bold;color:#fff;-webkit-text-stroke:0.4px #fff">混动产品</div>
<div class="a" style="left:1096px;top:693.5px;font-size:20px;font-family:'Liberation Serif',serif;font-weight:normal;-webkit-text-stroke:0.5px #1a2a5c;color:#1a2a5c;letter-spacing:2px">以品质成就客户</div>
</body></html>
